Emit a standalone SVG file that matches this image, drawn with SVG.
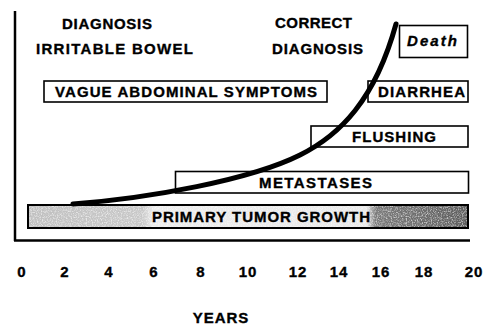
<svg xmlns="http://www.w3.org/2000/svg" width="490" height="327" viewBox="0 0 490 327">
<style>
.t{font-family:"Liberation Sans",Arial,sans-serif;font-weight:bold;font-size:15px;fill:#000;stroke:#000;stroke-width:0.35}
.box{fill:#fff;stroke:#000;stroke-width:1.6}
.ax{stroke:#000;stroke-width:2.5;fill:none}
.num{font-family:"Liberation Sans",Arial,sans-serif;font-weight:bold;font-size:15px;text-anchor:middle;letter-spacing:1px;stroke:#000;stroke-width:0.35}
</style>
<defs>
<linearGradient id="tumor" x1="0" y1="0" x2="1" y2="0">
<stop offset="0" stop-color="#c0c0c0"/>
<stop offset="0.26" stop-color="#c8c8c8"/>
<stop offset="0.285" stop-color="#ececec"/>
<stop offset="0.77" stop-color="#e8e8e8"/>
<stop offset="0.79" stop-color="#7a7a7a"/>
<stop offset="1" stop-color="#5e5e5e"/>
</linearGradient>
<filter id="speckle" x="0" y="0" width="1" height="1">
<feTurbulence type="fractalNoise" baseFrequency="0.8" numOctaves="2" seed="4" result="n"/>
<feColorMatrix in="n" type="matrix" values="0 0 0 0 1  0 0 0 0 1  0 0 0 0 1  0 0 0 -3 1.7" result="w"/>
<feComposite in="w" in2="SourceGraphic" operator="in"/>
</filter>
</defs>
<g id="axes">
<line class="ax" x1="15" y1="11" x2="15" y2="241"/>
<line class="ax" x1="14" y1="240.5" x2="470" y2="240.5"/>
</g>
<g id="tick-labels">
<text class="num" x="22" y="277">0</text>
<text class="num" x="65" y="277">2</text>
<text class="num" x="109" y="277">4</text>
<text class="num" x="154" y="277">6</text>
<text class="num" x="201" y="277">8</text>
<text class="num" x="248" y="277">10</text>
<text class="num" x="298" y="277">12</text>
<text class="num" x="339" y="277">14</text>
<text class="num" x="381" y="277">16</text>
<text class="num" x="424" y="277">18</text>
<text class="num" x="474" y="277">20</text>
<text class="num" x="221" y="323">YEARS</text>
</g>
<g id="diagnosis-ibs">
<text class="t" x="62" y="29" textLength="90" lengthAdjust="spacing">DIAGNOSIS</text>
<text class="t" x="36" y="54" textLength="157" lengthAdjust="spacing">IRRITABLE BOWEL</text>
</g>
<g id="correct-diagnosis">
<text class="t" x="275" y="28" textLength="77" lengthAdjust="spacing">CORRECT</text>
<text class="t" x="272" y="54" textLength="91" lengthAdjust="spacing">DIAGNOSIS</text>
</g>
<g id="death">
<rect class="box" x="399.5" y="25.5" width="68" height="32" stroke-width="2"/>
<text class="t" x="407" y="46" font-style="italic" textLength="50" lengthAdjust="spacing">Death</text>
</g>
<g id="vague">
<rect class="box" x="44" y="81" width="283" height="21"/>
<text class="t" x="55" y="97" textLength="262" lengthAdjust="spacing">VAGUE ABDOMINAL SYMPTOMS</text>
</g>
<g id="diarrhea">
<rect class="box" x="368" y="81" width="100" height="21"/>
<text class="t" x="378" y="97" textLength="87" lengthAdjust="spacing">DIARRHEA</text>
</g>
<g id="flushing">
<rect class="box" x="311" y="126" width="157" height="21"/>
<text class="t" x="352" y="142" textLength="84" lengthAdjust="spacing">FLUSHING</text>
</g>
<g id="metastases">
<rect class="box" x="175.5" y="171.5" width="293" height="21.5"/>
<text class="t" x="259" y="188" textLength="113" lengthAdjust="spacing">METASTASES</text>
</g>
<g id="primary-tumor">
<rect x="28" y="205" width="440" height="23" fill="url(#tumor)" stroke="#000" stroke-width="2"/>
<rect x="29" y="206" width="438" height="21" fill="#000" filter="url(#speckle)" opacity="0.6"/>
<text class="t" x="152" y="222" textLength="218" lengthAdjust="spacing">PRIMARY TUMOR GROWTH</text>
</g>
<g id="connectors">
<path d="M73,204 C150,198 250,180 300,155 C340,135 375,100 396,24" fill="none" stroke="#000" stroke-width="5" stroke-linecap="round"/>
</g>
</svg>
